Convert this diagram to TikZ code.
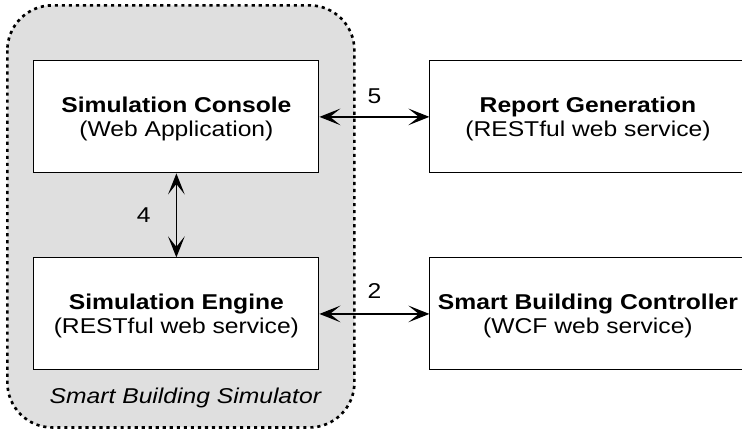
\documentclass[tikz,border=0pt]{standalone}
\usepackage{fontspec}
\setmainfont{Liberation Sans}[FakeStretch=1.15]
\usepackage{tikz}
\usetikzlibrary{matrix,arrows.meta,calc,backgrounds}

\newcommand{\boxtext}[2]{\begin{tabular}{@{}c@{}}\rule{0pt}{13pt}\textbf{#1}\\#2\end{tabular}}

\begin{document}
\begin{tikzpicture}[font=\fontsize{12.2}{14}\selectfont,
		comp/.style={draw,line width=0.6pt,fill=white,minimum height=2.24cm,inner sep=0pt,anchor=center},
		simarea/.style={draw,fill=gray!25,line width=1.5pt,dash pattern=on 1.8pt off 2.2pt,rounded corners=0.9cm},
		>={Stealth[length=12pt,width=9.5pt,inset=6pt]}]
			\useasboundingbox (0,0) rectangle (14.84,-8.6);
			\clip (0,0) rectangle (14.84,-8.6);
			\matrix (m) [matrix of nodes,anchor=north west,inner sep=0pt,row sep=1.68cm,column sep=2.2cm,
				nodes={comp},column 1/.style={nodes={minimum width=5.7cm}},column 2/.style={nodes={minimum width=6.32cm}}] at (0.66,-1.2)
			{
				\boxtext{Simulation Console}{(Web Application)} & \boxtext{Report Generation}{(RESTful web service)}\\
				\boxtext{Simulation Engine}{(RESTful web service)} & \boxtext{Smart Building Controller}{(WCF web service)}\\};
			\begin{scope}[on background layer]
				\draw[simarea] ($(m-1-1.north west)+(-0.52,1.1)$) rectangle ($(m-2-1.south east)+(0.7,-1.14)$);
			\end{scope}
			\node (simlabel) [anchor=base] at ($(m-2-1.south)+(0.18,-0.66)$) {\itshape Smart Building Simulator};
			\path[<->,line width=0.75pt]
			(m-1-1) edge node [above=4pt] {5} (m-1-2)
			(m-2-1) edge node [above=5pt] {2} (m-2-2)
			(m-1-1) edge node [left=11pt] {4} (m-2-1);
		\end{tikzpicture}
\end{document}
